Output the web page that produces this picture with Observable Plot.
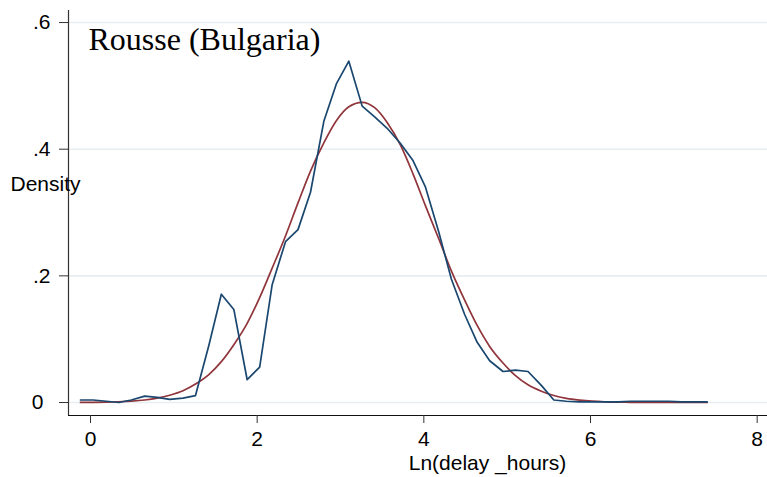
<!DOCTYPE html>
<html><head><meta charset="utf-8">
<script src="https://cdn.jsdelivr.net/npm/d3@7"></script>
<script src="https://cdn.jsdelivr.net/npm/@observablehq/plot@0.6"></script>
<style>body{margin:0;background:#fff}</style>
</head><body><div id="chart"></div>
<script>
// evaluation grid (Ln delay hours)
const xs = [-0.12, 0.03, 0.19, 0.34, 0.49, 0.65, 0.80, 0.95, 1.11, 1.26,
            1.42, 1.57, 1.72, 1.88, 2.03, 2.18, 2.34, 2.49, 2.64, 2.80,
            2.95, 3.10, 3.26, 3.41, 3.56, 3.72, 3.87, 4.02, 4.18, 4.33,
            4.49, 4.64, 4.79, 4.95, 5.10, 5.25, 5.41, 5.56, 5.71, 5.87,
            6.02, 6.17, 6.33, 6.48, 6.63, 6.79, 6.94, 7.09, 7.25, 7.40];
// kernel density estimate (blue)
const kdensity = [0.004, 0.004, 0.002, 0.000, 0.004, 0.010, 0.008, 0.005, 0.007, 0.011,
                  0.090, 0.171, 0.147, 0.036, 0.056, 0.186, 0.254, 0.273, 0.332, 0.444,
                  0.503, 0.539, 0.468, 0.451, 0.433, 0.409, 0.382, 0.340, 0.269, 0.195,
                  0.139, 0.095, 0.066, 0.049, 0.051, 0.049, 0.027, 0.004, 0.002, 0.001,
                  0.001, 0.001, 0.001, 0.002, 0.002, 0.002, 0.002, 0.001, 0.001, 0.001];
// normal density overlay (red)
const normal = [0.0002, 0.0003, 0.0006, 0.0012, 0.0022, 0.0040, 0.0069, 0.0115, 0.0186, 0.0291,
                0.0441, 0.0645, 0.0913, 0.1251, 0.1657, 0.2122, 0.2630, 0.3152, 0.3655, 0.4100,
                0.4449, 0.4669, 0.4740, 0.4655, 0.4421, 0.4063, 0.3611, 0.3105, 0.2582, 0.2078,
                0.1617, 0.1217, 0.0886, 0.0624, 0.0425, 0.0280, 0.0179, 0.0110, 0.0066, 0.0038,
                0.0021, 0.0011, 0.0006, 0.0003, 0.0001, 0.0001, 0.0000, 0.0000, 0.0000, 0.0000];
const xTicks = [0, 2, 4, 6, 8];
const yTicks = [0, 0.2, 0.4, 0.6];
const yTickLabels = ["0", ".2", ".4", ".6"];
const title = "Rousse (Bulgaria)";
const xLabel = "Ln(delay _hours)";
const yLabel = "Density";

const kd = xs.map((x, i) => ({x, y: kdensity[i]}));
const nd = xs.map((x, i) => ({x, y: normal[i]}));
const yt = yTicks.map((v, i) => ({v, label: yTickLabels[i]}));

const X0 = -0.264, X1 = 8.124, Y0 = -0.0205, Y1 = 0.619;
const sans = "'Liberation Sans', Arial, Helvetica, sans-serif";
const FS = 21;

const chart = Plot.plot({
  width: 767, height: 477,
  marginLeft: 68, marginRight: 0, marginTop: 10, marginBottom: 62,
  x: {domain: [X0, X1], axis: null},
  y: {domain: [Y0, Y1], axis: null},
  style: {fontFamily: sans, fontSize: FS + "px", background: "#fff", color: "#000"},
  marks: [
    Plot.ruleY(yTicks, {stroke: "#e6eef1", strokeWidth: 1.6}),
    Plot.ruleX([X0], {stroke: "#333", strokeWidth: 1.2}),
    Plot.ruleY([Y0], {stroke: "#111", strokeWidth: 1.2}),
    Plot.axisY(yTicks, {anchor: "left", tickSize: 9, tickFormat: () => "", label: null, stroke: "#333"}),
    Plot.text(yt.filter(d => d.v !== 0), {y: "v", text: "label", frameAnchor: "left", dx: -18, textAnchor: "end", lineAnchor: "middle", fontSize: FS}),
    Plot.text(yt.filter(d => d.v === 0), {y: "v", text: "label", frameAnchor: "left", dx: -25, textAnchor: "end", lineAnchor: "middle", fontSize: FS}),
    Plot.axisX(xTicks, {anchor: "bottom", tickSize: 8, tickPadding: 8, fontSize: FS, label: null, tickFormat: d => String(d), stroke: "#333"}),
    Plot.line(nd, {x: "x", y: "y", stroke: "#90353b", strokeWidth: 1.7, curve: "monotone-x"}),
    Plot.line(kd, {x: "x", y: "y", stroke: "#1a476f", strokeWidth: 1.7}),
    Plot.text([title], {x: -0.024, y: 0.556, text: d => d, textAnchor: "start", lineAnchor: "bottom", fontSize: 32, fontFamily: "'Liberation Serif', 'Times New Roman', serif"}),
    Plot.text([xLabel], {x: 4.764, y: -0.1060, text: d => d, textAnchor: "middle", lineAnchor: "bottom", fontSize: FS}),
    Plot.text([yLabel], {x: -0.96, y: 0.3444, text: d => d, textAnchor: "start", lineAnchor: "middle", fontSize: FS})
  ]
});
document.getElementById("chart").appendChild(chart);
</script>
</body></html>
